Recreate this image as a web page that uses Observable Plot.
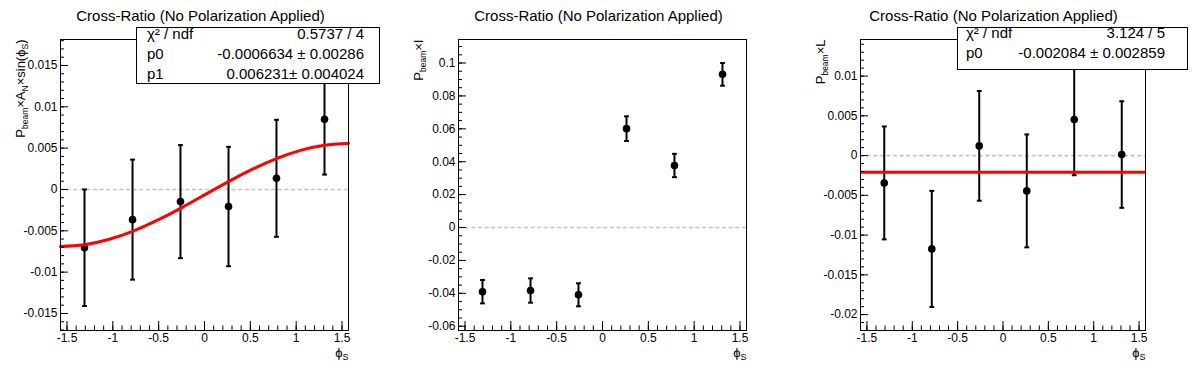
<!DOCTYPE html>
<html><head><meta charset="utf-8">
<script src="https://cdn.jsdelivr.net/npm/d3@7"></script>
<script src="https://cdn.jsdelivr.net/npm/@observablehq/plot@0.6"></script>
<style>
body{margin:0;background:#fff;}
#root{position:relative;width:1196px;height:372px;overflow:hidden;background:#fff;font-family:"Liberation Sans",Arial,sans-serif;}
.panel{position:absolute;top:0;}
.panel svg{display:block;max-width:none;}
.stats{position:absolute;background:#fff;border:1px solid #000;box-sizing:border-box;font-size:15px;color:#000;}
.row{position:absolute;line-height:15px;white-space:nowrap;}
</style></head><body><div id="root"></div>
<script>
// ---------------- data ----------------
const title = "Cross-Ratio (No Polarization Applied)";
const phiCenters = [-1.309, -0.785, -0.262, 0.262, 0.785, 1.309];

const anValues = [-0.00705, -0.00365, -0.00147, -0.00206, 0.00135, 0.0085];
const anErrors = [0.00705, 0.00726, 0.00684, 0.00722, 0.00708, 0.0067];

const iValues = [-0.0390, -0.0383, -0.0409, 0.0601, 0.0377, 0.0931];
const iErrors = [0.0071, 0.0074, 0.0070, 0.0075, 0.0071, 0.0069];

const lValues = [-0.00344, -0.01174, 0.00122, -0.00444, 0.00453, 0.00013];
const lErrors = [0.0071, 0.0073, 0.0069, 0.0071, 0.0070, 0.0067];

// red fit curve of panel 1
const fitPhi = [-1.5708, -1.309, -1.047, -0.785, -0.524, -0.262, 0, 0.262, 0.524, 0.785, 1.047, 1.309, 1.5708];
const fitAN  = [-0.00689, -0.00668, -0.00606, -0.00507, -0.00378, -0.00228, -0.00066, 0.00095, 0.00245, 0.00374, 0.00473, 0.00536, 0.00557];
// constant fit of panel 3
const fitL = -0.002084;

const statsANNames  = ["χ² / ndf", "p0", "p1"];
const statsANValues = ["0.5737 / 4", "-0.0006634 ± 0.00286", "0.006231± 0.004024"];
const statsLNames   = ["χ² / ndf", "p0"];
const statsLValues  = ["3.124 / 5", "-0.002084 ± 0.002859"];

const xTicks = [-1.5, -1, -0.5, 0, 0.5, 1, 1.5];
const xTickLabels = ["-1.5", "-1", "-0.5", "0", "0.5", "1", "1.5"];
const anYTicks = [-0.015, -0.01, -0.005, 0, 0.005, 0.01, 0.015];
const anYTickLabels = ["-0.015", "-0.01", "-0.005", "0", "0.005", "0.01", "0.015"];
const iYTicks = [-0.06, -0.04, -0.02, 0, 0.02, 0.04, 0.06, 0.08, 0.1];
const iYTickLabels = ["-0.06", "-0.04", "-0.02", "0", "0.02", "0.04", "0.06", "0.08", "0.1"];
const lYTicks = [-0.02, -0.015, -0.01, -0.005, 0, 0.005, 0.01];
const lYTickLabels = ["-0.02", "-0.015", "-0.01", "-0.005", "0", "0.005", "0.01"];

const anYLabel = [["P"], ["beam", 1], ["×"], ["A"], ["N", 1], ["×sin(ϕ"], ["S", 1], [")"]];
const iYLabel = [["P"], ["beam", 1], ["×I"]];
const lYLabel = [["P"], ["beam", 1], ["×L"]];
const xLabel = [["ϕ"], ["S", 1]];

// ---------------- drawing ----------------
const NS = "http://www.w3.org/2000/svg";
const XDOM = [-Math.PI / 2, Math.PI / 2];
const cap = {draw(ctx, size) { const r = Math.sqrt(size / Math.PI); ctx.moveTo(-r, 0); ctx.lineTo(r, 0); }};
const xMinor = d3.range(-15, 16).map(k => +(k / 10).toFixed(2));

function minorTicks(domain, step) {
  const out = [];
  for (let k = Math.ceil(domain[0] / step); k * step <= domain[1]; k++) out.push(+(k * step).toFixed(6));
  return out;
}

function rich(svg, placeholder, segs, subSize, shift) {
  const t = Array.from(svg.querySelectorAll("text")).find(e => e.textContent === placeholder);
  if (!t) return;
  t.textContent = "";
  let prevSub = false;
  for (const [s, sub] of segs) {
    const ts = document.createElementNS(NS, "tspan");
    ts.textContent = s;
    if (sub) { ts.setAttribute("font-size", subSize); if (!prevSub) ts.setAttribute("dy", shift); }
    else if (prevSub) ts.setAttribute("dy", -shift);
    prevSub = !!sub;
    t.appendChild(ts);
  }
}

function panel({left, width, marginRight, yDomain, yTicks, yTickLabels, yMinorStep, xs, vs, es, yLabel, extra, titleX}) {
  const points = xs.map((x, i) => ({x, v: vs[i], e: es[i]}));
  const yMap = new Map(yTicks.map((t, i) => [t, yTickLabels[i]]));
  const xMap = new Map(xTicks.map((t, i) => [t, xTickLabels[i]]));
  const yMinor = minorTicks(yDomain, yMinorStep);
  const fw = width - 60 - marginRight, fh = 372 - 39 - 42;
  const svg = Plot.plot({
    width, height: 372, marginLeft: 60, marginRight, marginTop: 39, marginBottom: 42,
    x: {domain: XDOM}, y: {domain: yDomain},
    style: {fontFamily: "Liberation Sans, Arial, sans-serif", fontSize: "12px", background: "transparent", color: "black", overflow: "visible"},
    marks: [
      Plot.ruleY([0], {stroke: "#c4c4c4", strokeWidth: 1.6, strokeDasharray: "4,2.6"}),
      Plot.ruleX(points, {x: "x", y1: d => d.v - d.e, y2: d => d.v + d.e, stroke: "black", strokeWidth: 2}),
      Plot.dot(points, {x: "x", y: d => d.v + d.e, symbol: cap, r: 2.4, stroke: "black", fill: "none", strokeWidth: 2}),
      Plot.dot(points, {x: "x", y: d => d.v - d.e, symbol: cap, r: 2.4, stroke: "black", fill: "none", strokeWidth: 2}),
      Plot.dot(points, {x: "x", y: "v", r: 3.8, fill: "black", stroke: "none"}),
      ...extra,
      Plot.frame({stroke: "black"}),
      // inward ticks (ROOT style)
      Plot.tickY(yTicks, {y: d => d, insetRight: fw - 8, stroke: "black"}),
      Plot.tickY(yMinor, {y: d => d, insetRight: fw - 4, stroke: "black"}),
      Plot.tickX(xTicks, {x: d => d, insetTop: fh - 9, stroke: "black"}),
      Plot.tickX(xMinor, {x: d => d, insetTop: fh - 4.5, stroke: "black"}),
      Plot.axisY({ticks: yTicks, tickSize: 0, tickPadding: 3, tickFormat: d => yMap.get(d), label: null, fontSize: 12}),
      Plot.axisX({ticks: xTicks, tickSize: 0, tickPadding: 3, tickFormat: d => xMap.get(d), label: null, fontSize: 12}),
      Plot.text([title], {frameAnchor: "top-left", dx: titleX - left - 60, dy: -18.3, lineAnchor: "bottom", textAnchor: "middle", fontSize: 15}),
      Plot.text(["@@ylabel"], {frameAnchor: "top-left", rotate: -90, textAnchor: "end", lineAnchor: "bottom", dx: -36, dy: 0, fontSize: 13}),
      Plot.text(["@@xlabel"], {frameAnchor: "bottom-right", textAnchor: "end", lineAnchor: "bottom", dy: 26, fontSize: 13})
    ]
  });
  rich(svg, "@@ylabel", yLabel, 8.5, 3);
  rich(svg, "@@xlabel", xLabel, 9, 3);
  const div = document.createElement("div");
  div.className = "panel";
  div.style.left = left + "px";
  div.style.width = width + "px";
  div.appendChild(svg);
  document.getElementById("root").appendChild(div);
}

function statsBox({left, top, width, height, names, values, baselines, nameX, valueRight}) {
  const box = document.createElement("div");
  box.className = "stats";
  Object.assign(box.style, {left: left + "px", top: top + "px", width: width + "px", height: height + "px"});
  names.forEach((n, i) => {
    const a = document.createElement("div");
    a.className = "row";
    a.textContent = n;
    a.style.left = (nameX - left - 1) + "px";
    a.style.top = (baselines[i] - 12.7 - top - 1) + "px";
    const b = document.createElement("div");
    b.className = "row";
    b.textContent = values[i];
    b.style.right = (left + width - valueRight - 1) + "px";
    b.style.top = (baselines[i] - 12.7 - top - 1) + "px";
    box.appendChild(a); box.appendChild(b);
  });
  document.getElementById("root").appendChild(box);
}

panel({
  left: 0, width: 400, marginRight: 52, yDomain: [-0.01706, 0.01814],
  yTicks: anYTicks, yTickLabels: anYTickLabels, yMinorStep: 0.001,
  xs: phiCenters, vs: anValues, es: anErrors, yLabel: anYLabel, titleX: 200,
  extra: [Plot.line(fitPhi.map((x, i) => ({x, y: fitAN[i]})), {x: "x", y: "y", stroke: "#ff0000", strokeWidth: 3, curve: "natural"})]
});
panel({
  left: 398, width: 400, marginRight: 52, yDomain: [-0.0626, 0.1143],
  yTicks: iYTicks, yTickLabels: iYTickLabels, yMinorStep: 0.005,
  xs: phiCenters, vs: iValues, es: iErrors, yLabel: iYLabel, titleX: 598, extra: []
});
panel({
  left: 800, width: 396, marginRight: 51, yDomain: [-0.0220, 0.0146],
  yTicks: lYTicks, yTickLabels: lYTickLabels, yMinorStep: 0.001,
  xs: phiCenters, vs: lValues, es: lErrors, yLabel: lYLabel, titleX: 993,
  extra: [Plot.ruleY([fitL], {stroke: "#ff0000", strokeWidth: 3})]
});

statsBox({left: 136, top: 27, width: 244, height: 57, names: statsANNames, values: statsANValues,
  baselines: [38.3, 58.3, 78.7], nameX: 147, valueRight: 364});
statsBox({left: 957, top: 27, width: 231, height: 43, names: statsLNames, values: statsLValues,
  baselines: [38, 57.7], nameX: 966, valueRight: 1165});
</script></body></html>
